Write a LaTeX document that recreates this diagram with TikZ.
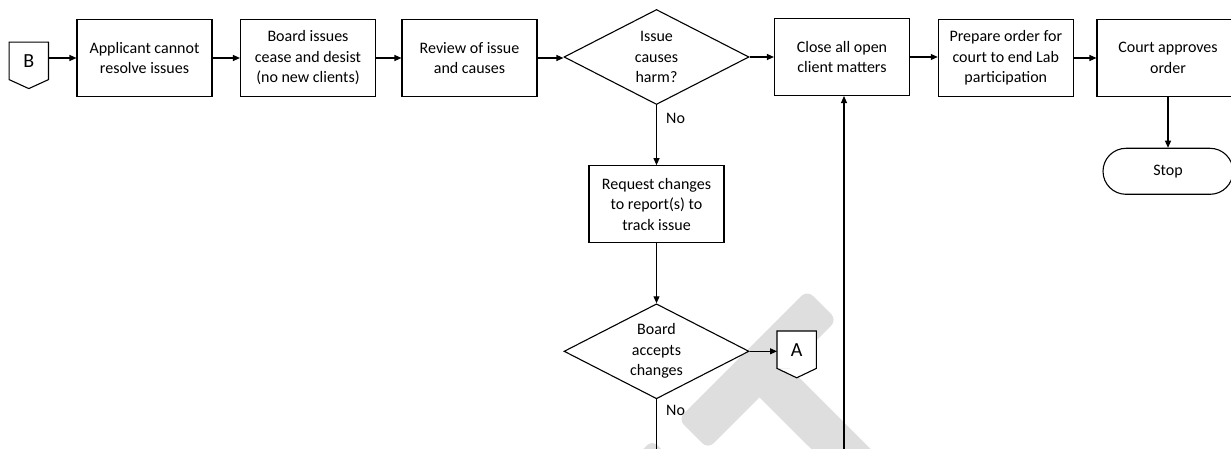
\documentclass[tikz,border=0pt]{standalone}
\usepackage{fontspec}
\setmainfont{Carlito}
\usetikzlibrary{shapes.geometric,arrows.meta,calc}
\begin{document}
\begin{tikzpicture}[x=1pt,y=-1pt,
  every node/.style={font=\fontsize{16}{20.5}\selectfont, align=center, inner sep=0pt},
  box/.style={draw, fill=white, line width=1.1pt, minimum width=135pt, minimum height=77pt},
  dec/.style={draw, fill=white, diamond, aspect=1.95, line width=1.1pt, minimum width=185pt, minimum height=95pt},
  term/.style={draw, fill=white, rounded corners=23pt, line width=1.1pt, minimum width=130pt, minimum height=46pt},
  marker/.style={font=\fontsize{20}{24}\selectfont, minimum width=39pt, minimum height=37pt},
  conn/.style={line width=1.1pt, -{Triangle[length=7pt,width=6pt]}},
  plain/.style={line width=1.1pt},
  wm/.style={fill=black!13},
]
\useasboundingbox (0,0) rectangle (1231,449);
\clip (0,0) rectangle (1231,449);
% watermark
\fill[wm, rounded corners=8pt] (807.2,290.2) -- (836.9,319.9) -- (707.9,448.9) -- (678.2,419.2) -- cycle;
\fill[wm] (774.3,352.6) -- (924.4,502.7) -- (894.7,532.4) -- (744.6,382.4) -- cycle;
\fill[wm, rounded corners=7pt] (652.2,440.2) -- (681.9,469.9) -- (601.9,549.9) -- (572.2,520.2) -- cycle;

% nodes
\node[marker] (B) at (28.8,60.9) {B};
\draw[plain] (B.north west) -- (B.north east) -- (B.south east) -- ($(B.south)+(0,9)$) -- (B.south west) -- cycle;
\node[box] (box1) at (144.5,58) {Applicant cannot\\resolve issues};
\node[box] (box2) at (308,58) {Board issues\\cease and desist\\(no new clients)};
\node[box] (box3) at (469.5,58) {Review of issue\\and causes};
\node[dec] (d1) at (656.5,57) {Issue\\causes\\harm?};
\node[box] (close) at (842,57) {Close all open\\client matters};
\node[box] (prep) at (1005.8,58) {Prepare order for\\court to end Lab\\participation};
\node[box, minimum width=142pt] (court) at (1168,58) {Court approves\\order};
\node[term] (stop) at (1168,171.3) {Stop};
\node[box] (req) at (656.5,204.2) {Request changes\\to report(s) to\\track issue};
\node[dec] (d2) at (656.5,351.3) {Board\\accepts\\changes};
\node[marker, fill=white] (A) at (796.7,349.7) {A};
\fill[white] (A.south west) -- ($(A.south)+(0,9.4)$) -- (A.south east) -- cycle;
\draw[plain] (A.north west) -- (A.north east) -- (A.south east) -- ($(A.south)+(0,9.4)$) -- (A.south west) -- cycle;
\node[anchor=west] (no1) at (666,118) {No};
\node[anchor=west] (no2) at (666,410) {No};
\coordinate (d2out) at (656.5,449);
\coordinate (upin) at (844,449);

% connectors
\draw[conn] (B.east |- box1.west) -- (box1.west);
\draw[conn] (box1.east) -- (box2.west);
\draw[conn] (box2.east) -- (box3.west);
\draw[conn] (box3.east) -- (box3.east -| d1.west);
\draw[conn] (d1.east) -- (d1.east -| close.west);
\draw[conn] (close.east) -- (close.east -| prep.west);
\draw[conn] (prep.east) -- (prep.east -| court.west);
\draw[conn] (court.south) -- (stop.north);
\draw[conn] (d1.south) -- (req.north);
\draw[conn] (req.south) -- (d2.north);
\draw[conn] (d2.east) -- (d2.east -| A.west);
\draw[plain] (d2.south) -- (d2out);
\draw[conn] (upin) -- (upin |- close.south);
\end{tikzpicture}
\end{document}
